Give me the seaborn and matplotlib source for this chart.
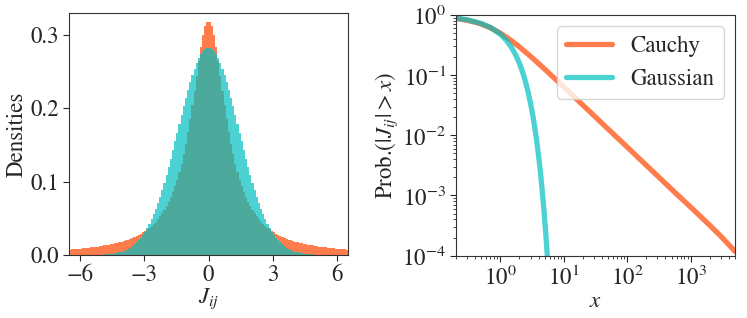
import matplotlib
matplotlib.use("Agg")
import matplotlib.pyplot as plt
from matplotlib.ticker import LogLocator
import numpy as np
import pandas as pd
import seaborn as sns

# histogram bin heights (bins of width 0.1, -6.5 .. 6.5)
cauchy_density = [
    0.0075, 0.0077, 0.0079, 0.0082, 0.0085, 0.0087, 0.0090, 0.0093, 0.0097, 0.0100,
    0.0104, 0.0107, 0.0111, 0.0116, 0.0120, 0.0125, 0.0130, 0.0135, 0.0141, 0.0147,
    0.0153, 0.0160, 0.0167, 0.0175, 0.0183, 0.0192, 0.0201, 0.0211, 0.0222, 0.0234,
    0.0247, 0.0260, 0.0275, 0.0291, 0.0309, 0.0328, 0.0349, 0.0372, 0.0397, 0.0424,
    0.0455, 0.0488, 0.0525, 0.0566, 0.0612, 0.0663, 0.0720, 0.0784, 0.0855, 0.0936,
    0.1026, 0.1128, 0.1242, 0.1371, 0.1514, 0.1673, 0.1848, 0.2037, 0.2238, 0.2444,
    0.2647, 0.2836, 0.2996, 0.3113, 0.3175,
    0.3175, 0.3113, 0.2996, 0.2836, 0.2647, 0.2444, 0.2238, 0.2037, 0.1848, 0.1673,
    0.1514, 0.1371, 0.1242, 0.1128, 0.1026, 0.0936, 0.0855, 0.0784, 0.0720, 0.0663,
    0.0612, 0.0566, 0.0525, 0.0488, 0.0455, 0.0424, 0.0397, 0.0372, 0.0349, 0.0328,
    0.0309, 0.0291, 0.0275, 0.0260, 0.0247, 0.0234, 0.0222, 0.0211, 0.0201, 0.0192,
    0.0183, 0.0175, 0.0167, 0.0160, 0.0153, 0.0147, 0.0141, 0.0135, 0.0130, 0.0125,
    0.0120, 0.0116, 0.0111, 0.0107, 0.0104, 0.0100, 0.0097, 0.0093, 0.0090, 0.0087,
    0.0085, 0.0082, 0.0079, 0.0077, 0.0075,
]
gauss_density = [
    0.0, 0.0, 0.0, 0.0, 0.0, 0.0, 0.0, 0.0001, 0.0001, 0.0001,
    0.0002, 0.0002, 0.0003, 0.0004, 0.0005, 0.0006, 0.0008, 0.0010, 0.0013, 0.0016,
    0.0020, 0.0025, 0.0031, 0.0038, 0.0047, 0.0057, 0.0069, 0.0084, 0.0101, 0.0121,
    0.0144, 0.0171, 0.0201, 0.0236, 0.0276, 0.0320, 0.0370, 0.0426, 0.0487, 0.0555,
    0.0629, 0.0709, 0.0796, 0.0888, 0.0986, 0.1090, 0.1199, 0.1311, 0.1428, 0.1547,
    0.1667, 0.1788, 0.1908, 0.2026, 0.2141, 0.2251, 0.2355, 0.2451, 0.2538, 0.2615,
    0.2682, 0.2736, 0.2777, 0.2805, 0.2819,
    0.2819, 0.2805, 0.2777, 0.2736, 0.2682, 0.2615, 0.2538, 0.2451, 0.2355, 0.2251,
    0.2141, 0.2026, 0.1908, 0.1788, 0.1667, 0.1547, 0.1428, 0.1311, 0.1199, 0.1090,
    0.0986, 0.0888, 0.0796, 0.0709, 0.0629, 0.0555, 0.0487, 0.0426, 0.0370, 0.0320,
    0.0276, 0.0236, 0.0201, 0.0171, 0.0144, 0.0121, 0.0101, 0.0084, 0.0069, 0.0057,
    0.0047, 0.0038, 0.0031, 0.0025, 0.0020, 0.0016, 0.0013, 0.0010, 0.0008, 0.0006,
    0.0005, 0.0004, 0.0003, 0.0002, 0.0002, 0.0001, 0.0001, 0.0001, 0.0, 0.0,
    0.0, 0.0, 0.0, 0.0, 0.0,
]

# survival curves
cauchy_x = [0.2, 0.3, 0.4, 0.5, 0.7, 1, 1.5, 2, 3, 4, 5, 7, 10, 15, 20, 30, 50,
            100, 200, 500, 1000, 2000, 3000, 5000]
cauchy_p = [0.874, 0.814, 0.758, 0.705, 0.611, 0.500, 0.374, 0.295, 0.205, 0.156,
            0.126, 0.0903, 0.0635, 0.0424, 0.0318, 0.0212, 0.0127, 0.00637, 0.00318,
            0.00127, 0.00064, 0.00032, 0.00021, 0.000118]
gauss_x = [0.2, 0.3, 0.5, 0.7, 1.0, 1.25, 1.5, 1.75, 2.0, 2.25, 2.5, 2.75, 3.0,
           3.25, 3.5, 3.75, 4.0, 4.25, 4.5, 4.75, 5.0, 5.25, 5.5, 5.75, 6.0]
gauss_p = [0.8875, 0.8320, 0.7237, 0.6206, 0.4795, 0.3768, 0.2888, 0.2159, 0.1573,
           0.1118, 0.0771, 0.0515, 0.0339, 0.0215, 0.0133, 0.0080, 0.00468, 0.00266,
           0.00146, 0.00078, 0.000407, 0.000207, 0.000101, 0.000048, 0.000022]

c_cauchy = "orangered"
c_gauss = "c"

sns.set_style("ticks")
plt.rcParams["font.family"] = "serif"
plt.rcParams["font.serif"] = ["STIXGeneral", "Liberation Serif", "DejaVu Serif"]
plt.rcParams["mathtext.fontset"] = "stix"
plt.rcParams["font.size"] = 16.5
plt.rcParams["xtick.major.size"] = 4
plt.rcParams["ytick.major.size"] = 4
plt.rcParams["xtick.minor.size"] = 2.5
plt.rcParams["ytick.minor.size"] = 2.5
plt.rcParams["xtick.major.pad"] = 3
plt.rcParams["ytick.major.pad"] = 3

n_bins = len(cauchy_density)
edges = np.linspace(-6.5, 6.5, n_bins + 1)
centers = (edges[:-1] + edges[1:]) / 2
hist_df = pd.DataFrame({"J": centers, "cauchy": cauchy_density, "gauss": gauss_density})

fig = plt.figure(figsize=(7.47, 3.18), dpi=100)
ax1 = fig.add_axes([0.0924, 0.198, 0.3735, 0.762])
ax2 = fig.add_axes([0.6104, 0.196, 0.3735, 0.757])

for col, colour in (("cauchy", c_cauchy), ("gauss", c_gauss)):
    sns.histplot(data=hist_df, x="J", weights=col, binwidth=0.1,
                 binrange=(-6.5, 6.5), stat="count", element="step", fill=True,
                 color=colour, alpha=0.7, linewidth=0, ax=ax1)
ax1.set_xlim(-6.5, 6.5)
ax1.set_ylim(0, 0.33)
ax1.set_xticks([-6, -3, 0, 3, 6])
ax1.set_yticks([0.0, 0.1, 0.2, 0.3])
ax1.set_yticklabels(["0.0", "0.1", "0.2", "0.3"])
ax1.set_xlabel(r"$J_{ij}$", labelpad=0)
ax1.set_ylabel("Densities", labelpad=2)

sns.lineplot(x=cauchy_x, y=cauchy_p, color=c_cauchy, alpha=0.7, lw=3.8,
             label="Cauchy", ax=ax2, estimator=None, sort=False)
sns.lineplot(x=gauss_x, y=gauss_p, color=c_gauss, alpha=0.7, lw=3.8,
             label="Gaussian", ax=ax2, estimator=None, sort=False)
ax2.set_xscale("log")
ax2.set_yscale("log")
ax2.set_xlim(0.2, 5000)
ax2.set_ylim(1e-4, 1)
ax2.xaxis.set_major_locator(LogLocator(base=10, numticks=12))
ax2.yaxis.set_major_locator(LogLocator(base=10, numticks=12))
ax2.set_xlabel(r"$x$", labelpad=1)
ax2.set_ylabel(r"Prob.$(|J_{ij}|>x)$", labelpad=2)
ax2.legend(loc="upper right", fontsize=16.5)

for ax in (ax1, ax2):
    for s in ax.spines.values():
        s.set_visible(True)
        s.set_color("#333333")

fig.savefig("out.png", dpi=100)
